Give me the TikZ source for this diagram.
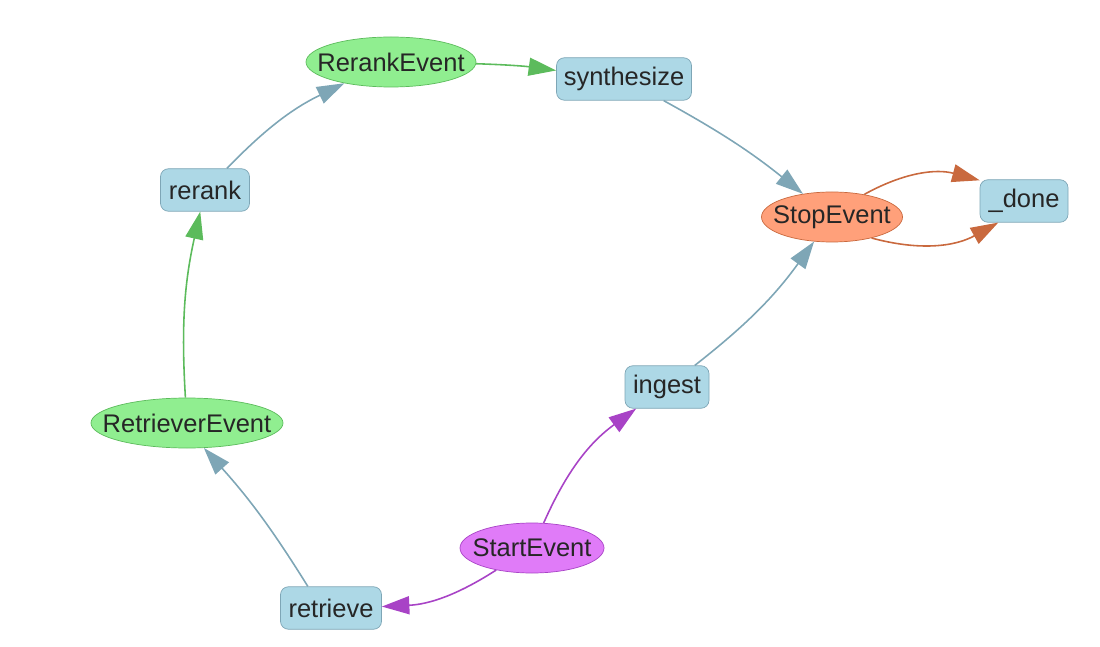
\documentclass[tikz,border=0pt]{standalone}
\usepackage{fontspec}
\setmainfont{Liberation Sans}
\usepackage{tikz}
\usetikzlibrary{arrows.meta,shapes.geometric}
\definecolor{stepfill}{HTML}{ADD8E6}
\definecolor{stepline}{HTML}{7EA6B6}
\definecolor{evgreen}{HTML}{90EE90}
\definecolor{evgreenline}{HTML}{5CBB5C}
\definecolor{evstop}{HTML}{FFA07A}
\definecolor{evstopline}{HTML}{C9693E}
\definecolor{evstart}{HTML}{E07BF8}
\definecolor{evstartline}{HTML}{A843C6}

\begin{document}
\begin{tikzpicture}[
  stepnode/.style={draw=stepline, fill=stepfill, rounded corners=0.16cm, inner sep=0.1cm, minimum height=0.85cm, font=\fontsize{14.5}{16}\selectfont, text=black!85},
  eventnode/.style={draw, ellipse, inner xsep=-0.5cm, inner ysep=0pt, minimum height=1cm, font=\fontsize{14.5}{16}\selectfont, text=black!85},
  arrow/.style={-{Triangle[length=0.55cm, width=0.36cm]}, line width=0.9pt},
  steparrow/.style={arrow, draw=stepline},
  greenarrow/.style={arrow, draw=evgreenline},
  stoparrow/.style={arrow, draw=evstopline},
  startarrow/.style={arrow, draw=evstartline}
]
\useasboundingbox (0,0) rectangle (22,-12.94);

% events
\node[eventnode, draw=evgreenline, fill=evgreen, minimum width=3.4cm] (rerankev) at (7.82, -1.24) {RerankEvent};
\node[eventnode, draw=evgreenline, fill=evgreen, minimum width=3.84cm] (retrieverev) at (3.74, -8.46) {RetrieverEvent};
\node[eventnode, draw=evstopline, fill=evstop, minimum width=2.82cm] (stopev) at (16.64, -4.34) {StopEvent};
\node[eventnode, draw=evstartline, fill=evstart, minimum width=2.88cm] (startev) at (10.64, -10.96) {StartEvent};

% steps
\node[stepnode, minimum width=2.7cm] (synthesize) at (12.48, -1.58) {synthesize};
\node[stepnode, minimum width=1.78cm] (rerank) at (4.10, -3.80) {rerank};
\node[stepnode, minimum width=1.76cm] (done) at (20.48, -4.02) {\_done};
\node[stepnode, minimum width=1.68cm] (ingest) at (13.34, -7.74) {ingest};
\node[stepnode, minimum width=2.02cm] (retrieve) at (6.62, -12.16) {retrieve};

\draw[startarrow] (startev) to[bend left=15] (ingest);
\draw[startarrow] (startev) to[bend left=15] (retrieve);
\draw[steparrow] (retrieve.137) to[bend right=5] (retrieverev.-56);
\draw[greenarrow] (retrieverev) to[bend left=8] (rerank);
\draw[steparrow] (rerank) to[bend left=10] (rerankev);
\draw[greenarrow] (rerankev) to[bend left=3] (synthesize);
\draw[steparrow] (synthesize) to[bend left=5] (stopev);
\draw[steparrow] (ingest) to[bend right=8] (stopev);
\draw[stoparrow] (stopev.35) to[bend left=22] (done.155);
\draw[stoparrow] (stopev.-28) to[bend right=22] (done.220);

\end{tikzpicture}
\end{document}
